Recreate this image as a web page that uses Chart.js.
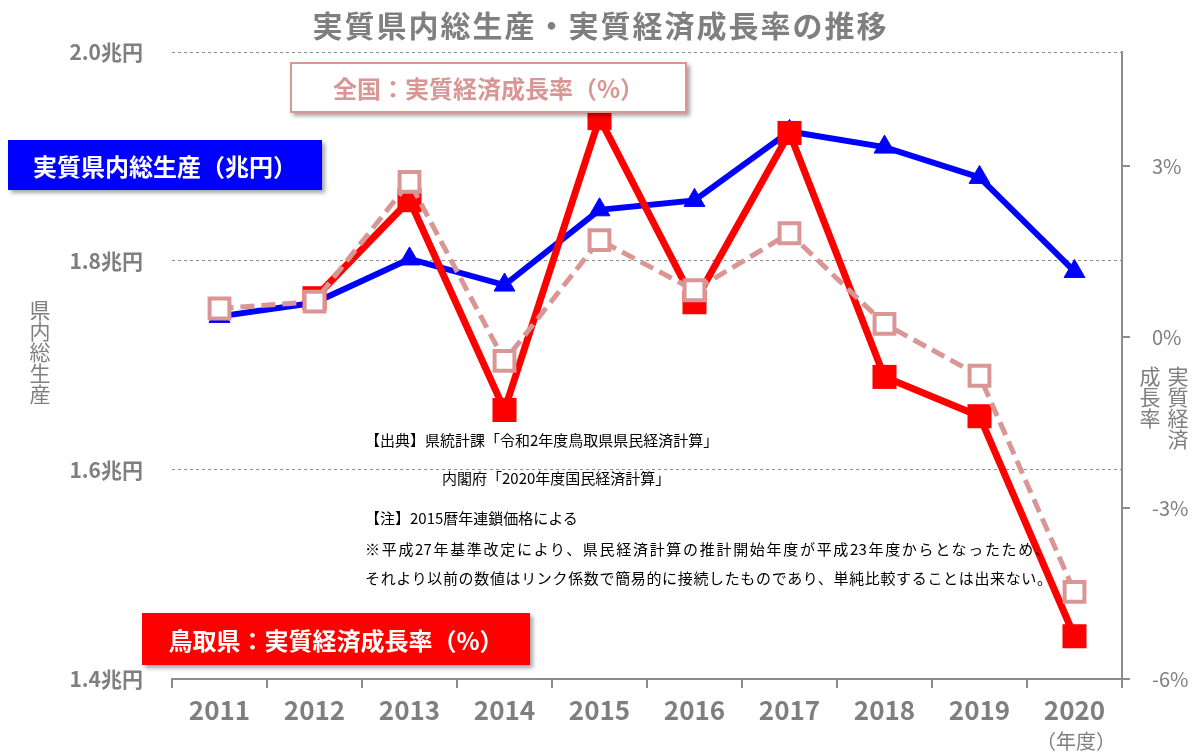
<!DOCTYPE html>
<html lang="ja">
<head>
  <meta charset="UTF-8" />
  <title>実質県内総生産・実質経済成長率の推移</title>
  <script src="https://cdn.jsdelivr.net/npm/chart.js"></script>
  <style>
    body {
      margin: 0;
      background: #fff;
      font-family: "Noto Sans CJK JP", "Noto Sans", sans-serif;
    }
    .wrap {
      position: relative;
      width: 1201px;
      height: 753px;
      overflow: hidden;
    }
    canvas { position: absolute; left: 0; top: 0; }
    .abs { position: absolute; white-space: nowrap; }
    .title {
      left: 0; width: 1201px; top: 2px;
      text-align: center;
      font-size: 30px; font-weight: bold; letter-spacing: 2px;
      color: #7f7f7f;
    }
    /* series label boxes */
    .box {
      display: flex; align-items: center; justify-content: center;
      font-weight: bold; font-size: 24px;
      box-shadow: 3px 3px 4px rgba(0,0,0,0.35);
      box-sizing: border-box;
    }
    .box.blue { left: 8px; top: 140px; width: 314px; height: 50px; background: #0000ff; color: #fff; }
    .box.pink { left: 290px; top: 62px; width: 397px; height: 51px; background: #fff; color: #d99694; border: 2px solid #d99694; }
    .box.red  { left: 142px; top: 613px; width: 388px; height: 52px; background: #ff0000; color: #fff; }
    .vlabel {
      writing-mode: vertical-rl;
      color: #7f7f7f; font-size: 21px; line-height: 28px;
    }
    .note { color: #000; font-size: 15px; line-height: 20px; }
    .note.just { text-align-last: justify; }
  </style>
</head>
<body>
  <div class="wrap">
    <canvas id="gdpChart" width="1201" height="753"></canvas>

    <div class="abs title">実質県内総生産・実質経済成長率の推移</div>
    <div class="abs box pink">全国：実質経済成長率（%）</div>
    <div class="abs box blue">実質県内総生産（兆円）</div>
    <div class="abs box red">鳥取県：実質経済成長率（%）</div>

    <div class="abs vlabel" style="left:26px; top:300px;">県内総生産</div>
    <div class="abs vlabel" style="left:1136px; top:366px;">実質経済<br>成長率</div>

    <div class="abs note" style="left:365px; top:430px;">【出典】県統計課「令和2年度鳥取県県民経済計算」</div>
    <div class="abs note" style="left:442px; top:468px;">内閣府「2020年度国民経済計算」</div>
    <div class="abs note" style="left:365px; top:508px;">【注】2015暦年連鎖価格による</div>
    <div class="abs note just" style="left:365px; top:539px; width:685px;">※平成27年基準改定により、県民経済計算の推計開始年度が平成23年度からとなったため、</div>
    <div class="abs note just" style="left:365px; top:568px; width:687px;">それより以前の数値はリンク係数で簡易的に接続したものであり、単純比較することは出来ない。</div>

    <div class="abs" style="left:1036px; top:726px; font-size:20px; color:#7f7f7f;">（年度）</div>
  </div>

  <script>
    // fiscal years
    const years = ['2011', '2012', '2013', '2014', '2015', '2016', '2017', '2018', '2019', '2020'];
    // real prefectural GDP (trillion yen)
    const realGdp = [1.747, 1.760, 1.802, 1.777, 1.849, 1.858, 1.924, 1.909, 1.880, 1.790];
    // Tottori real growth rate (%), no value shown for 2011
    const tottoriGrowth = [null, 0.68, 2.4, -1.28, 3.84, 0.61, 3.58, -0.70, -1.39, -5.25];
    // national real growth rate (%)
    const nationalGrowth = [0.5, 0.62, 2.72, -0.42, 1.70, 0.82, 1.82, 0.23, -0.68, -4.47];
    // axis ticks
    const gdpTicks = [1.4, 1.6, 1.8, 2.0];
    const rateTicks = [-6, -3, 0, 3];

    const gray = '#7f7f7f';
    const axisGray = '#8c8c8c';
    const jp = '"Noto Sans CJK JP", "Noto Sans", sans-serif';

    const ctx = document.getElementById('gdpChart').getContext('2d');
    new Chart(ctx, {
      type: 'line',
      data: {
        labels: years,
        datasets: [
          {
            label: '全国：実質経済成長率（%）',
            data: nationalGrowth,
            yAxisID: 'rate',
            order: 0,
            borderColor: '#d99694',
            borderWidth: 5,
            borderDash: [14, 7],
            pointStyle: 'rect',
            pointRadius: 14,
            pointBorderWidth: 4,
            pointBackgroundColor: '#ffffff',
            pointBorderColor: '#d99694',
            tension: 0
          },
          {
            label: '鳥取県：実質経済成長率（%）',
            data: tottoriGrowth,
            yAxisID: 'rate',
            order: 1,
            borderColor: '#ff0000',
            borderWidth: 7,
            pointStyle: 'rect',
            pointRadius: 17,
            pointBorderWidth: 0,
            pointBackgroundColor: '#ff0000',
            tension: 0
          },
          {
            label: '実質県内総生産（兆円）',
            data: realGdp,
            yAxisID: 'gdp',
            order: 2,
            borderColor: '#0000ff',
            borderWidth: 6,
            pointStyle: 'triangle',
            pointRadius: 12,
            pointBorderWidth: 1,
            pointBackgroundColor: '#0000ff',
            pointBorderColor: '#0000ff',
            tension: 0
          }
        ]
      },
      options: {
        responsive: false,
        animation: false,
        clip: false,
        layout: { padding: { top: 52, left: 0, right: 0, bottom: 0 } },
        plugins: {
          legend: { display: false },
          title: { display: false },
          tooltip: { enabled: false }
        },
        scales: {
          x: {
            offset: true,
            afterFit: s => { s.height = 74; },
            grid: {
              offset: true,
              drawOnChartArea: false,
              tickLength: 9,
              color: axisGray,
              lineWidth: 2
            },
            border: { color: axisGray, width: 2 },
            ticks: {
              color: gray,
              padding: 7,
              font: { family: jp, size: 26, weight: 'bold' }
            }
          },
          gdp: {
            position: 'left',
            min: 1.4,
            max: 2.0,
            afterBuildTicks: s => { s.ticks = gdpTicks.map(v => ({ value: v })); },
            afterFit: s => { s.width = 172; },
            grid: {
              drawTicks: false,
              lineWidth: 1,
              color: c => (c.tick && c.tick.value === 1.4) ? 'rgba(0,0,0,0)' : '#8c8c8c'
            },
            border: { display: false, dash: [3, 3] },
            ticks: {
              color: gray,
              padding: 29,
              font: { family: jp, size: 21, weight: 'bold' },
              callback: v => v.toFixed(1) + '兆円'
            }
          },
          rate: {
            position: 'right',
            min: -6,
            max: 5,
            afterBuildTicks: s => { s.ticks = rateTicks.map(v => ({ value: v })); },
            afterFit: s => { s.width = 79; },
            grid: {
              drawOnChartArea: false,
              tickLength: 8,
              color: axisGray,
              lineWidth: 2
            },
            border: { color: axisGray, width: 2 },
            ticks: {
              color: gray,
              padding: 22,
              font: { family: jp, size: 20 },
              callback: v => v + '%'
            }
          }
        }
      }
    });
  </script>
</body>
</html>
